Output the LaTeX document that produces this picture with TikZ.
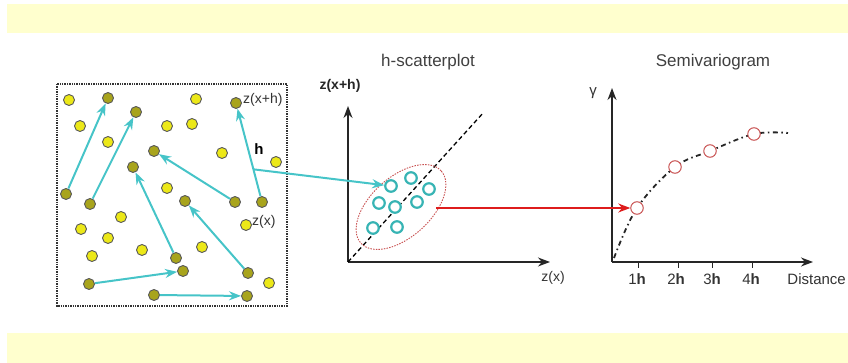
\documentclass[tikz,border=0pt]{standalone}
\usepackage{fontspec}
\setmainfont{Liberation Sans}
\usepackage{tikz}
\usetikzlibrary{
  arrows.meta,
  positioning,
  shapes.geometric,
  calc
}
\definecolor{bandyellow}{RGB}{255,255,206}
\definecolor{dotyellow}{RGB}{236,232,24}
\definecolor{dotolive}{RGB}{168,164,28}
\definecolor{hcyan}{RGB}{70,196,200}
\definecolor{hteal}{RGB}{55,180,180}
\definecolor{gred}{RGB}{200,80,80}
\definecolor{arrred}{RGB}{222,28,28}

\tikzset{
  ydot/.style={circle, draw=black!65, fill=dotyellow, line width=0.9pt,
    minimum width=10pt, minimum height=11pt, inner sep=0pt},
  odot/.style={ydot, fill=dotolive},
  hcirc/.style={circle, draw=hteal, line width=2.2pt, fill=white,
    minimum size=11.5pt, inner sep=0pt},
  gcirc/.style={circle, draw=gred, line width=1pt, fill=white,
    minimum size=12.5pt, inner sep=0pt},
  harrow/.style={hcyan, line width=2pt, -{Stealth[length=12pt,width=9pt]}},
  axis/.style={black!85, line width=1.4pt, -{Stealth[length=12pt,width=9pt]}},
  lbl/.style={font=\fontsize{14}{16}\selectfont, text=black!80, inner sep=1pt},
  title/.style={font=\fontsize{17}{19}\selectfont, text=black!75}
}

\begin{document}
\begin{tikzpicture}[x=1pt, y=-1pt]
  \useasboundingbox (0,0) rectangle (848,363);

  % background bands
  \fill[bandyellow] (7,4) rectangle (848,33);
  \fill[bandyellow] (7,333) rectangle (848,363);

  % sample field
  \draw[black!80, line width=1.3pt, dash pattern=on 1.4pt off 1pt] (57,84) rectangle (287,306);

  \node[ydot] (d1)  at (69,100) {};
  \node[odot] (d2)  at (108,98) {};
  \node[ydot] (d3)  at (80,126) {};
  \node[odot] (d4)  at (136,112) {};
  \node[ydot] (d5)  at (108,142) {};
  \node[ydot] (d6)  at (167,126) {};
  \node[ydot] (d7)  at (192,124) {};
  \node[ydot] (d8)  at (196,99) {};
  \node[odot] (d9)  at (236,103) {};
  \node[odot] (d10) at (154,151) {};
  \node[ydot] (d11) at (222,153) {};
  \node[ydot] (d12) at (276,162) {};
  \node[odot] (d13) at (66,194) {};
  \node[odot] (d14) at (90,204) {};
  \node[odot] (d15) at (133,167) {};
  \node[ydot] (d16) at (167,188) {};
  \node[odot] (d17) at (185,201) {};
  \node[odot] (d18) at (235,202) {};
  \node[odot] (d19) at (262,202) {};
  \node[ydot] (d20) at (121,217) {};
  \node[ydot] (d21) at (81,229) {};
  \node[ydot] (d22) at (108,238) {};
  \node[ydot] (d23) at (246,225) {};
  \node[ydot] (d24) at (92,256) {};
  \node[ydot] (d25) at (142,250) {};
  \node[ydot] (d26) at (202,247) {};
  \node[odot] (d27) at (176,258) {};
  \node[odot] (d28) at (183,271) {};
  \node[odot] (d29) at (248,273) {};
  \node[ydot] (d30) at (269,283) {};
  \node[odot] (d31) at (89,284) {};
  \node[odot] (d32) at (154,295) {};
  \node[odot] (d33) at (247,296) {};

  % pairs separated by h
  \draw[harrow] (d13) -- (d2);
  \draw[harrow] (d14) -- (d4);
  \draw[harrow] (d27) -- (d15);
  \draw[harrow] (d18) -- (d10);
  \draw[harrow] (d29) -- (d17);
  \draw[harrow] (d19) -- (d9);
  \draw[harrow] (d31) -- (d28);
  \draw[harrow] (d32) -- (d33);

  \node[lbl, anchor=west] (lzxh) at (242,100) {z(x+h)};
  \node[lbl, font=\fontsize{15}{17}\selectfont\bfseries, text=black] (lh) at (259,149) {h};
  \node[lbl, anchor=west] (lzx) at (251,222) {z(x)};

  % h-scatterplot
  \node[title] (stitle) at (428,62) {h-scatterplot};
  \coordinate (sorig) at (348,262);
  \coordinate (stop) at (348,106);
  \coordinate (sright) at (550,262);
  \coordinate (sdiag) at (484,112);
  \draw[axis] (sorig) -- (stop);
  \draw[axis] (sorig) -- (sright);
  \draw[black, line width=1.3pt, dash pattern=on 4.5pt off 3pt] (sorig) -- (sdiag);
  \node[lbl, font=\fontsize{14}{16}\selectfont\bfseries, text=black!85] (sylbl) at (340,86) {z(x+h)};
  \node[lbl] (sxlbl) at (553,278) {z(x)};

  \node[ellipse, draw=gred, line width=0.9pt, dash pattern=on 1.5pt off 1.2pt,
    minimum width=108pt, minimum height=60pt, rotate=42] (ell) at (401,207) {};

  \node[hcirc] (hc1) at (391,186) {};
  \node[hcirc] (hc2) at (411,178) {};
  \node[hcirc] (hc3) at (429,189) {};
  \node[hcirc] (hc4) at (379,203) {};
  \node[hcirc] (hc5) at (395,207) {};
  \node[hcirc] (hc6) at (417,202) {};
  \node[hcirc] (hc7) at (373,228) {};
  \node[hcirc] (hc8) at (397,227) {};

  % from the field to the scatterplot
  \coordinate (hstart) at ($(d19)!0.33!(d9)$);
  \draw[harrow] (hstart) -- (hc1);

  % Semivariogram
  \node[title] (vtitle) at (713,62) {Semivariogram};
  \coordinate (vorig) at (612,262);
  \coordinate (vtop) at (612,88);
  \coordinate (vright) at (813,262);
  \draw[axis] (vorig) -- (vtop);
  \draw[axis] (vorig) -- (vright);
  \node[lbl, font=\fontsize{15}{17}\selectfont] (gam) at (593,93) {γ};

  \coordinate (p0) at (614,258);
  \coordinate (p1) at (637,208);
  \coordinate (p2) at (675,167);
  \coordinate (p3) at (710,151);
  \coordinate (p4) at (754,134);
  \coordinate (p5) at (788,133);
  \draw[black!85, line width=1.8pt, dash pattern=on 5pt off 3.5pt on 1.5pt off 3.5pt]
    plot[smooth, tension=0.6] coordinates {(p0) (p1) (p2) (p3) (p4) (p5)};
  \node[gcirc] (g1) at (p1) {};
  \node[gcirc] (g2) at (p2) {};
  \node[gcirc] (g3) at (p3) {};
  \node[gcirc] (g4) at (p4) {};

  % ticks
  \draw[black!85, line width=1pt] (638,262) -- (638,268);
  \draw[black!85, line width=1pt] (678,262) -- (678,268);
  \draw[black!85, line width=1pt] (712,262) -- (712,268);
  \draw[black!85, line width=1pt] (752,262) -- (752,268);
  \node[lbl, font=\fontsize{15}{17}\selectfont] (t1) at (637,279) {1\textbf{h}};
  \node[lbl, font=\fontsize{15}{17}\selectfont] (t2) at (676,279) {2\textbf{h}};
  \node[lbl, font=\fontsize{15}{17}\selectfont] (t3) at (712,279) {3\textbf{h}};
  \node[lbl, font=\fontsize{15}{17}\selectfont] (t4) at (751,279) {4\textbf{h}};
  \node[lbl, font=\fontsize{15}{17}\selectfont, anchor=east] (tdist) at (847,279) {Distance};

  % from the scatterplot to the semivariogram
  \coordinate (rstart) at (436,208);
  \draw[arrred, line width=1.6pt, -{Stealth[length=12pt,width=9pt]}] (rstart) -- (g1);
\end{tikzpicture}
\end{document}
